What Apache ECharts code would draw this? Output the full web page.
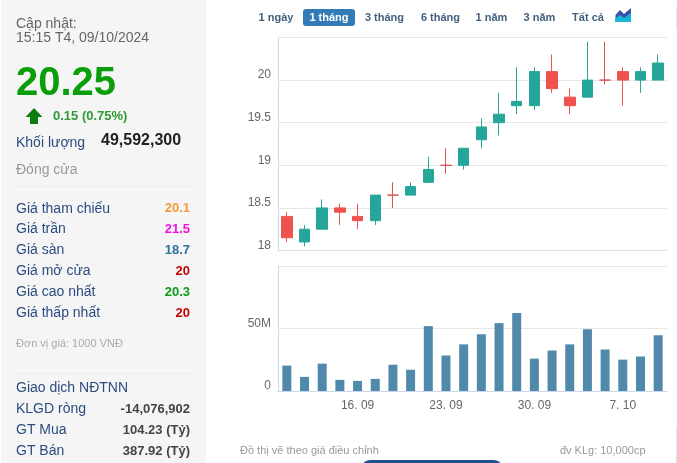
<!DOCTYPE html>
<html><head><meta charset="utf-8">
<style>html,body{margin:0;padding:0;background:#fff}#c{width:677px;height:463px}</style>
<script src="https://cdn.jsdelivr.net/npm/echarts@6/dist/echarts.min.js"></script>
</head><body><div id="c"></div>
<script>
const categories = ['10. 09','11. 09','12. 09','13. 09','16. 09','17. 09','18. 09','19. 09','20. 09','23. 09','24. 09','25. 09','26. 09','27. 09','30. 09','1. 10','2. 10','3. 10','4. 10','7. 10','8. 10','9. 10'];
const tickIndexes = [4, 9, 14, 19];
// open, close, low, high
const candles = [
 [18.4,18.15,18.1,18.45],[18.1,18.25,18.05,18.3],[18.25,18.5,18.25,18.6],[18.5,18.45,18.3,18.55],
 [18.4,18.35,18.25,18.55],[18.35,18.65,18.3,18.65],[18.65,18.65,18.5,18.8],[18.65,18.75,18.65,18.8],
 [18.8,18.95,18.8,19.1],[19,19,18.9,19.2],[19,19.2,18.95,19.2],[19.3,19.45,19.2,19.55],
 [19.5,19.6,19.35,19.85],[19.7,19.75,19.6,20.15],[19.7,20.1,19.65,20.15],[20.1,19.9,19.85,20.3],
 [19.8,19.7,19.6,19.9],[19.8,20,19.8,20.45],[20,20,19.95,20.45],[20.1,20,19.7,20.15],
 [20,20.1,19.85,20.15],[20,20.2,20,20.3]];
const volumes = [20.3,11.3,21.9,8.9,8.1,9.7,21,17,51.9,28.4,37.3,45.4,54.3,62.4,25.9,32.4,37.3,49.4,33.2,25.1,27.6,44.6];
const ranges = [['1 ngày',276],['1 tháng',329,true],['3 tháng',384.5],['6 tháng',440.5],['1 năm',491.5],['3 năm',539.5],['Tất cả',588]];
const priceRows = [['Giá tham chiếu','20.1','#f29d38',208.7],['Giá trần','21.5','#ee11dd',229.5],['Giá sàn','18.7','#2a7298',250.3],['Giá mở cửa','20','#c40000',271],['Giá cao nhất','20.3','#0c9c12',292.5],['Giá thấp nhất','20','#c40000',313]];
const foreignRows = [['KLGD ròng','-14,076,902',409.3],['GT Mua','104.23 (Tỷ)',430.3],['GT Bán','387.92 (Tỷ)',451.3]];

const FF = '"Liberation Sans", Arial, sans-serif';
const BLUE = '#2b4c80';
function txt(x, y, text, fill, size, weight, align) {
  return {type:'text', silent:true, x, y, style:{text, fill, font:(weight||'normal')+' '+size+'px '+FF, align:align||'left', verticalAlign:'middle'}};
}
const g = [];
g.push({type:'rect', silent:true, z:-1, shape:{x:1,y:0,width:205,height:463}, style:{fill:'#f5f5f5'}});
g.push(txt(16,24,'Cập nhật:','#666',14), txt(16,38.5,'15:15 T4, 09/10/2024','#666',14));
g.push(txt(16,84,'20.25','#0a9e0a',40,'bold'));
g.push({type:'polygon', silent:true, shape:{points:[[34,108],[42.5,117],[38,117],[38,124],[30,124],[30,117],[25.5,117]]}, style:{fill:'#0a7d12'}});
g.push(txt(53,116,'0.15 (0.75%)','#2f9a36',13,'bold'));
g.push(txt(16,143,'Khối lượng',BLUE,14), txt(101,140.5,'49,592,300','#222',16,'bold'));
g.push(txt(16,170,'Đóng cửa','#999',14));
[186.5,373.5].forEach(y=>g.push({type:'line', silent:true, shape:{x1:16,y1:y,x2:193,y2:y}, style:{stroke:'#ececec',lineWidth:1}}));
priceRows.forEach(r=>{g.push(txt(16,r[3],r[0],BLUE,14), txt(190,r[3],r[1],r[2],13,'bold','right'));});
g.push(txt(16,343.5,'Đơn vị giá: 1000 VNĐ','#aaa',11));
g.push(txt(16,388,'Giao dịch NĐTNN',BLUE,14));
foreignRows.forEach(r=>{g.push(txt(16,r[2],r[0],BLUE,14), txt(190,r[2],r[1],'#444',13,'bold','right'));});
g.push({type:'rect', silent:true, shape:{x:303,y:9,width:52,height:17,r:3}, style:{fill:'#337ab7'}});
ranges.forEach(r=>g.push(txt(r[1],17.5,r[0],r[2]?'#fff':'#43607f',11,'bold','center')));
g.push({type:'polygon', silent:true, shape:{points:[[615.5,22],[615.5,15],[620,10],[624,14],[631,8],[631,22]]}, style:{fill:'#3a4fa8'}});
g.push({type:'polygon', silent:true, shape:{points:[[615.5,22],[615.5,18],[620,15],[624,18],[631,13],[631,22]]}, style:{fill:'#17b6d6'}});
[[8,28],[428,463]].forEach(s=>g.push({type:'line', silent:true, shape:{x1:676.5,y1:s[0],x2:676.5,y2:s[1]}, style:{stroke:'#e2e2e2',lineWidth:1}}));
g.push(txt(240,450.5,'Đồ thị vẽ theo giá điều chỉnh','#999',11), txt(645.5,450.5,'đv KLg: 10,000cp','#999',11,'normal','right'));
g.push({type:'rect', silent:true, shape:{x:361,y:460,width:142,height:20,r:9}, style:{fill:'#1f4f8f'}});

const L = {color:'#666', fontFamily:FF, fontSize:12};
const chart = echarts.init(document.getElementById('c'), null, {renderer:'canvas'});
chart.setOption({
  animation:false,
  graphic:g,
  grid:[{left:278,right:10,top:37.5,height:213},{left:278,right:10,top:266,height:125}],
  xAxis:[
    {type:'category',gridIndex:0,data:categories,boundaryGap:true,axisLine:{lineStyle:{color:'#e0e0e0'}},axisTick:{show:false},axisLabel:{show:false},splitLine:{show:false}},
    {type:'category',gridIndex:1,data:categories,boundaryGap:true,axisLine:{lineStyle:{color:'#ccd6eb'}},
     axisTick:{alignWithLabel:true,length:10,lineStyle:{color:'#ccd6eb'},interval:(i)=>tickIndexes.includes(i)},
     axisLabel:Object.assign({},L,{margin:9,interval:(i)=>tickIndexes.includes(i)}),splitLine:{show:false}}
  ],
  yAxis:[
    {type:'value',gridIndex:0,min:18,max:20.5,interval:0.5,axisLine:{show:true,lineStyle:{color:'#ccd6eb'}},axisTick:{show:false},
     axisLabel:Object.assign({},L,{margin:7,verticalAlign:'bottom',lineHeight:10,showMaxLabel:false,formatter:(v)=>String(v)}),splitLine:{lineStyle:{color:'#e6e6e6'}}},
    {type:'value',gridIndex:1,min:0,max:100,interval:50,axisLine:{show:true,lineStyle:{color:'#ccd6eb'}},axisTick:{show:false},
     axisLabel:Object.assign({},L,{margin:7,verticalAlign:'bottom',lineHeight:10,showMaxLabel:false,formatter:(v)=>v===0?'0':v+'M'}),splitLine:{lineStyle:{color:'#e6e6e6'}}}
  ],
  series:[
    {type:'candlestick',xAxisIndex:0,yAxisIndex:0,data:candles,barWidth:11,silent:true,
     itemStyle:{color:'#26a69a',color0:'#ef5350',borderColor:'#26a69a',borderColor0:'#ef5350',borderColorDoji:'#d9534f',borderWidth:1}},
    {type:'bar',xAxisIndex:1,yAxisIndex:1,data:volumes,barWidth:9,silent:true,itemStyle:{color:'#5089ab'}}
  ]
});
</script></body></html>
